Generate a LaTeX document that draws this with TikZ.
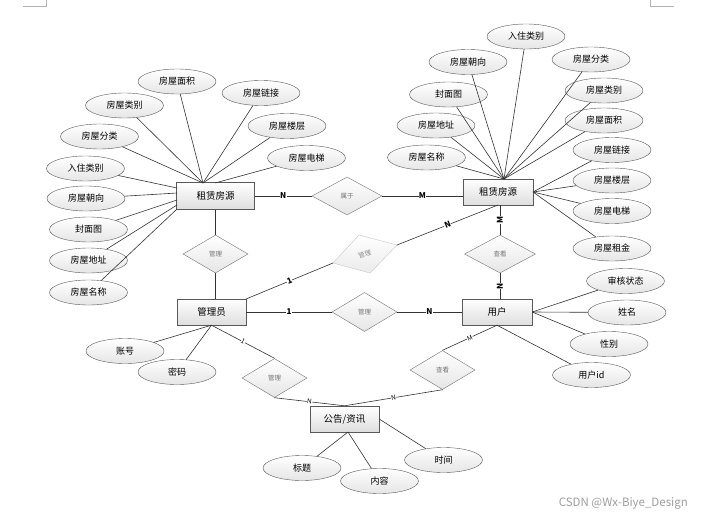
\documentclass[tikz,border=0pt]{standalone}
\usepackage{fontspec}
\setmainfont{Noto Sans CJK SC}
\usetikzlibrary{shapes.geometric,calc}
\begin{document}
\begin{tikzpicture}[x=1pt,y=-1pt,
  ent/.style={draw=black!65, top color=white, bottom color=black!13, minimum width=70pt, minimum height=26pt, inner sep=0pt, font=\fontsize{9.5}{10}\selectfont},
  attr/.style={ellipse, draw=black!65, top color=white, bottom color=black!10, minimum width=78pt, minimum height=25pt, inner sep=0pt, font=\fontsize{9}{10}\selectfont},
  rel/.style={diamond, draw=black!55, top color=white, bottom color=black!10, minimum width=65pt, minimum height=38pt, inner sep=0pt, text=black!55, font=\fontsize{6.5}{7}\selectfont},
  ln/.style={draw=black!80, line width=0.6pt},
  card/.style={fill=white, inner sep=0.4pt, font=\fontsize{8}{8}\selectfont\bfseries},
  smallcard/.style={card, font=\fontsize{6.5}{7}\selectfont},
  pagemark/.style={draw=black!30, line width=0.6pt}
]
\useasboundingbox (0,0) rectangle (701,516);
\fill[white] (0,0) rectangle (701,516);

% page corner marks
\coordinate (m1) at (23,6); \coordinate (m2) at (46,6); \coordinate (m3) at (46,0);
\coordinate (m4) at (650,0); \coordinate (m5) at (650,6); \coordinate (m6) at (674,6);
\draw[pagemark] (m1) -- (m2) -- (m3);
\draw[pagemark] (m4) -- (m5) -- (m6);

% ---------- connection points ----------
\coordinate (Lp1) at (203,183);
\coordinate (Lp2) at (215,183);
\coordinate (Lq1) at (177,188);
\coordinate (Lq2) at (177,193);
\coordinate (Lq3) at (177,200);
\coordinate (Lq4) at (177,205);
\coordinate (Lq5) at (177,209);
\coordinate (Rp1) at (504,179);
\coordinate (Rp2) at (533,192);
\coordinate (Atr) at (246,299);
\coordinate (Rb) at (498,205);
\coordinate (Gs) at (348,432);

% skewed diamond corners
\coordinate (r3t) at (359,235);
\coordinate (r3r) at (397,245);
\coordinate (r3b) at (370,273);
\coordinate (r3l) at (333,263);

% ---------- left attributes ----------
\node[attr] (la1) at (177,81.5) {房屋面积};
\node[attr] (la2) at (124.5,105.5) {房屋类别};
\node[attr] (la3) at (261,93) {房屋链接};
\node[attr] (la4) at (99.5,136.5) {房屋分类};
\node[attr] (la5) at (287,126) {房屋楼层};
\node[attr] (la6) at (85.5,168.5) {入住类别};
\node[attr] (la7) at (306.5,158) {房屋电梯};
\node[attr] (la8) at (86,198.5) {房屋朝向};
\node[attr] (la9) at (88.5,229.5) {封面图};
\node[attr] (la10) at (88.5,260.5) {房屋地址};
\node[attr] (la11) at (88.5,292.5) {房屋名称};

% ---------- right attributes ----------
\node[attr] (ra1) at (526,36.5) {入住类别};
\node[attr] (ra2) at (468,62) {房屋朝向};
\node[attr] (ra3) at (591,59.5) {房屋分类};
\node[attr] (ra4) at (448.5,94.5) {封面图};
\node[attr] (ra5) at (604,90.5) {房屋类别};
\node[attr] (ra6) at (436,125.5) {房屋地址};
\node[attr] (ra7) at (604,120.5) {房屋面积};
\node[attr] (ra8) at (426.5,157.5) {房屋名称};
\node[attr] (ra9) at (612,150) {房屋链接};
\node[attr] (ra10) at (612,180.5) {房屋楼层};
\node[attr] (ra11) at (612,211) {房屋电梯};
\node[attr] (ra12) at (612,248.5) {房屋租金};

% ---------- user attributes ----------
\node[attr] (ua1) at (625.5,281) {审核状态};
\node[attr] (ua2) at (627,312.5) {姓名};
\node[attr] (ua3) at (609,344) {性别};
\node[attr] (ua4) at (591.5,375) {用户id};

% ---------- admin attributes ----------
\node[attr] (aa1) at (125,351) {账号};
\node[attr] (aa2) at (177,372) {密码};

% ---------- notice attributes ----------
\node[attr] (ga1) at (302,468) {标题};
\node[attr] (ga2) at (379.5,481) {内容};
\node[attr] (ga3) at (443.5,460) {时间};

% ---------- entities ----------
\node[ent, minimum width=78pt, minimum height=27pt] (L) at (215.5,196) {租赁房源};
\node[ent] (R) at (498,192) {租赁房源};
\node[ent, minimum width=69pt] (A) at (211.5,312) {管理员};
\node[ent] (U) at (497,312) {用户};
\node[ent, minimum width=69pt] (G) at (344.5,419) {公告/资讯};

% ---------- relationships ----------
\node[rel, minimum width=70pt] (r1) at (347,196) {属于};
\node[rel] (r2) at (215.5,254) {管理};
\path[draw=black!22, top color=white, bottom color=black!8] (r3t) -- (r3r) -- (r3b) -- (r3l) -- cycle;
\node[rotate=15, text=black!45, font=\fontsize{6.5}{7}\selectfont] (r3) at (364.75,254) {管理};
\node[rel, minimum width=71pt] (r4) at (500,254) {查看};
\node[rel, minimum height=39pt] (r5) at (364.5,312) {管理};
\node[rel, minimum height=39pt] (r6) at (274.5,378) {管理};
\node[rel, minimum height=39pt] (r7) at (442.5,370) {查看};

% ---------- attribute lines ----------
\foreach \a in {la1,la2,la3,la4,la5} \draw[ln] (\a) -- (Lp1);
\draw[ln] (la7) -- (Lp2);
\draw[ln] (la6) -- (Lq1);
\draw[ln] (la8) -- (Lq2);
\draw[ln] (la9) -- (Lq3);
\draw[ln] (la10) -- (Lq4);
\draw[ln] (la11) -- (Lq5);
\foreach \a in {ra1,ra2,ra3,ra4,ra5,ra6,ra7,ra8} \draw[ln] (\a) -- (Rp1);
\foreach \a in {ra9,ra10,ra11,ra12} \draw[ln] (\a) -- (Rp2);
\draw[ln] (U.east) -- (ua1);
\draw[ln] (U.east) -- (ua2);
\draw[ln] (U.east) -- (ua3);
\draw[ln] (U.south) -- (ua4);
\draw[ln] (A.south) -- (aa1);
\draw[ln] (A.south) -- (aa2);
\draw[ln] (Gs) -- (ga1);
\draw[ln] (Gs) -- (ga2);
\draw[ln] (G.east) -- (ga3);

% ---------- relationship lines ----------
\draw[ln] (L.east) -- node[card] {N} (r1.west);
\draw[ln] (r1.east) -- node[card] {M} (r1.east -| R.west);
\draw[ln] (L.south) -- (r2.north);
\draw[ln] (r2.south) -- (r2.south |- A.north);
\draw[ln] (Atr) -- node[card, sloped] {1} (r3l);
\draw[ln] (r3r) -- node[card, sloped] {N} (Rb);
\draw[ln] (r4.north |- R.south) -- node[card, rotate=90] {M} (r4.north);
\draw[ln] (r4.south) -- node[card, rotate=90] {N} (r4.south |- U.north);
\draw[ln] (A.east) -- node[card] {1} (r5.west);
\draw[ln] (r5.east) -- node[card] {N} (U.west);
\draw[ln] (A.south) -- node[smallcard, sloped] {1} (r6.north);
\draw[ln] (r6.south) -- node[smallcard, sloped] {N} (G.north);
\draw[ln] (G.north) -- node[smallcard, sloped] {N} (r7.south);
\draw[ln] (r7.north) -- node[smallcard, sloped] {M} (U.south);

% watermark
\node[text=black!38, font=\fontsize{11.5}{12}\selectfont, anchor=east, inner sep=0pt] (wm) at (688,503) {CSDN @Wx-Biye\_Design};
\end{tikzpicture}
\end{document}
